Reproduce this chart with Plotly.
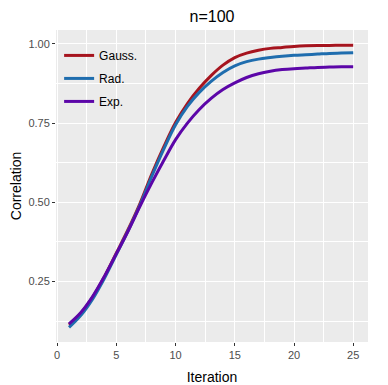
import plotly.graph_objects as go

iteration = list(range(1, 26))
gauss = [0.113, 0.150, 0.201, 0.266, 0.340, 0.415, 0.497, 0.590, 0.675, 0.752,
         0.812, 0.860, 0.900, 0.933, 0.957, 0.971, 0.980, 0.986, 0.989, 0.992,
         0.994, 0.995, 0.995, 0.996, 0.996]
rad = [0.105, 0.143, 0.195, 0.261, 0.336, 0.411, 0.492, 0.583, 0.668, 0.745,
       0.803, 0.847, 0.882, 0.910, 0.931, 0.944, 0.952, 0.957, 0.961, 0.964,
       0.966, 0.968, 0.970, 0.971, 0.972]
expo = [0.116, 0.152, 0.203, 0.267, 0.338, 0.410, 0.488, 0.562, 0.632, 0.698,
        0.750, 0.793, 0.828, 0.856, 0.877, 0.894, 0.906, 0.914, 0.919, 0.922,
        0.924, 0.926, 0.927, 0.928, 0.928]

series = [
    ("Gauss.", gauss, "#A6141E"),
    ("Rad.", rad, "#1F6DAE"),
    ("Exp.", expo, "#5C06A8"),
]

fig = go.Figure()
for i, (name, vals, color) in enumerate(series):
    fig.add_trace(go.Scatter(
        x=iteration, y=vals, name=name, mode="lines",
        line=dict(color=color, width=3, shape="spline"),
        legendgroup=f"g{i}",
    ))

axis_common = dict(
    showgrid=True, gridcolor="white", gridwidth=1.3,
    zeroline=False, showline=False, automargin=False,
    ticks="outside", ticklen=3, tickcolor="#333333", tickwidth=1,
    tickfont=dict(size=11, color="#4D4D4D"),
)

# the page body has an 8px margin, so the figure is sized to fit inside the window
fig.update_layout(
    width=380, height=377,
    margin=dict(l=48, r=20, t=22, b=43),
    paper_bgcolor="white", plot_bgcolor="#EBEBEB",
    font=dict(family="Liberation Sans, Arial, sans-serif", color="black"),
    title=dict(text="n=100", x=0.537, xanchor="center", y=0.978, yanchor="middle",
               font=dict(size=16, color="black")),
    xaxis=dict(range=[-0.1, 26.25], tickvals=[0, 5, 10, 15, 20, 25],
               minor=dict(tickvals=[2.5, 7.5, 12.5, 17.5, 22.5],
                          showgrid=True, gridcolor="white", gridwidth=0.6, ticks=""),
               title=dict(text="Iteration", font=dict(size=14)),
               **axis_common),
    yaxis=dict(range=[0.059, 1.044], tickvals=[0.25, 0.5, 0.75, 1.0],
               ticktext=["0.25", "0.50", "0.75", "1.00"],
               minor=dict(tickvals=[0.125, 0.375, 0.625, 0.875],
                          showgrid=True, gridcolor="white", gridwidth=0.6, ticks=""),
               title=dict(text="Correlation", font=dict(size=14)),
               **axis_common),
    legend=dict(x=0.01, y=0.965, xanchor="left", yanchor="top",
                bgcolor="rgba(0,0,0,0)", font=dict(size=12, color="black"),
                tracegroupgap=4, itemwidth=30),
    showlegend=True,
)

fig.write_html("out.html")
